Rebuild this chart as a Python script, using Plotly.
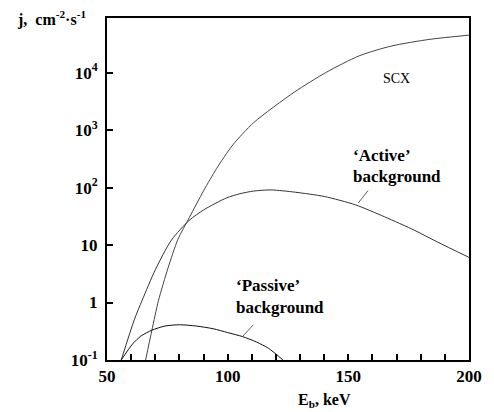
import plotly.graph_objects as go

# Data (E_b in keV, j in cm^-2 s^-1)
scx_E = [66, 68.6, 71.3, 75.3, 79.4, 84.1, 90.1, 95.4, 102.1, 110.8, 127.6, 141, 154.4, 167.8, 183.9, 200]
scx_j = [0.1, 0.33, 1.07, 4.0, 12.6, 30, 89, 214, 550, 1350, 4570, 10200, 19500, 29000, 38000, 44800]

act_E = [55.9, 61.3, 64.6, 70, 76.7, 84.1, 90.1, 99.5, 105, 110.8, 118, 128, 140, 153, 165, 177.5, 186.7, 200]
act_j = [0.1, 0.5, 1.1, 3.7, 12.2, 27, 41, 66, 78, 87, 91, 83, 70, 50, 31, 18, 11.4, 6.1]

pas_E = [55.9, 60.6, 64, 68.6, 74, 80, 87, 94, 100, 106.2, 112, 116.9, 122.9]
pas_j = [0.1, 0.19, 0.26, 0.33, 0.39, 0.41, 0.39, 0.35, 0.30, 0.255, 0.205, 0.16, 0.1]

y_tickvals = [0.1, 1, 10, 100, 1000, 10000]
y_ticktext = ["10<sup>-1</sup>", "1", "10", "10<sup>2</sup>", "10<sup>3</sup>", "10<sup>4</sup>"]
x_tickvals = [50, 100, 150, 200]

serif = "Liberation Serif, Times New Roman, serif"

fig = go.Figure()
for E, j, col in [(scx_E, scx_j, "#444"), (act_E, act_j, "#333"), (pas_E, pas_j, "#111")]:
    fig.add_trace(go.Scatter(x=E, y=j, mode="lines",
                             line=dict(color=col, width=1, shape="spline", smoothing=0.7),
                             showlegend=False, hoverinfo="skip"))

fig.update_layout(
    width=494, height=412,
    margin=dict(l=107, r=14, t=18, b=52),
    plot_bgcolor="white", paper_bgcolor="white",
    font=dict(family=serif, color="black"),
    xaxis=dict(range=[50, 200], tickvals=x_tickvals, ticks="inside", ticklen=6, tickwidth=1.5,
               tickcolor="black", showline=True, linecolor="black", linewidth=2, mirror=True,
               showgrid=False, zeroline=False,
               tickfont=dict(family=serif, size=17, color="black", weight="bold"),
               minor=dict(dtick=10, ticks="inside", ticklen=6, tickwidth=1.5, tickcolor="black", showgrid=False)),
    yaxis=dict(type="log", range=[-1, 4.95], tickvals=y_tickvals, ticktext=y_ticktext,
               ticks="inside", ticklen=6, tickwidth=1.5, tickcolor="black", ticklabelstandoff=4,
               showline=True, linecolor="black", linewidth=2, mirror=True,
               showgrid=False, zeroline=False,
               tickfont=dict(family=serif, size=17, color="black", weight="bold")),
)

bold = dict(family=serif, size=17, color="black", weight="bold")
ann = [
    dict(x=169.8, y=3.904, text="SCX", showarrow=False, xanchor="center", yanchor="middle",
         font=dict(family=serif, size=14, color="black")),
    dict(x=150.9, y=2.565, text="‘Active’", showarrow=False, xanchor="left", yanchor="middle", font=bold),
    dict(x=150.9, y=2.2, text="background", showarrow=False, xanchor="left", yanchor="middle", font=bold),
    dict(x=102.7, y=0.304, text="‘Passive’", showarrow=False, xanchor="left", yanchor="middle", font=bold),
    dict(x=102.7, y=-0.078, text="background", showarrow=False, xanchor="left", yanchor="middle", font=bold),
    dict(x=154.1, y=1.73, text="", showarrow=True, arrowhead=0, ax=11, ay=-14, arrowwidth=0.8,
         arrowcolor="#333", standoff=0, startstandoff=0),
    dict(x=106.2, y=-0.59, text="", showarrow=True, arrowhead=0, ax=12, ay=-13, arrowwidth=0.8,
         arrowcolor="#333", standoff=0, startstandoff=0),
    dict(xref="paper", yref="paper", x=-0.253, y=1.0, text="j,  cm<sup>-2</sup>·s<sup>-1</sup>",
         showarrow=False, xanchor="left", yanchor="middle", font=dict(family=serif, size=16, color="black", weight="bold")),
    dict(xref="paper", yref="paper", x=0.6, y=-0.117, text="E<sub>b</sub>, keV",
         showarrow=False, xanchor="center", yanchor="middle", font=dict(family=serif, size=16, color="black", weight="bold")),
]
fig.update_layout(annotations=ann)

fig.write_html("out.html", config={"displayModeBar": False},
               post_script="document.body.style.margin='0';document.body.style.overflow='hidden';")
